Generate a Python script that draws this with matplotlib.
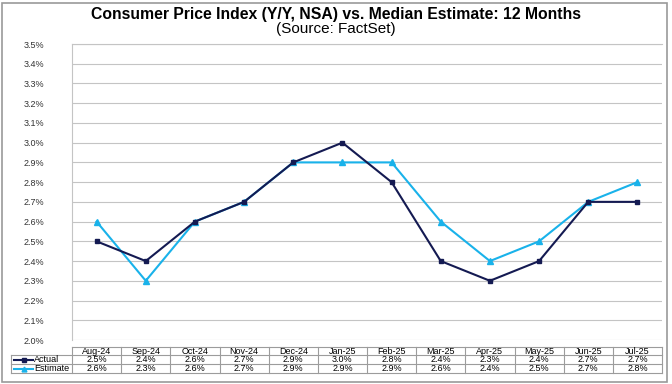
import matplotlib
matplotlib.use("Agg")
import matplotlib.pyplot as plt
from matplotlib.lines import Line2D
from matplotlib.patches import Rectangle
from matplotlib.ticker import MultipleLocator, FuncFormatter

plt.rcParams["font.family"] = ["Liberation Sans", "DejaVu Sans"]

months = ["Aug-24", "Sep-24", "Oct-24", "Nov-24", "Dec-24", "Jan-25",
          "Feb-25", "Mar-25", "Apr-25", "May-25", "Jun-25", "Jul-25"]
actual = [2.5, 2.4, 2.6, 2.7, 2.9, 3.0, 2.8, 2.4, 2.3, 2.4, 2.7, 2.7]
estimate = [2.6, 2.3, 2.6, 2.7, 2.9, 2.9, 2.9, 2.6, 2.4, 2.5, 2.7, 2.8]

c_act = "#141a52"
c_est = "#19b2ea"
grid_c = "#c4c4c4"

W, H = 672, 384
fig = plt.figure(figsize=(W / 100, H / 100), dpi=100)

# outer frame
fig.patches.append(Rectangle((2 / W, 2 / H), 665 / W, 379 / H, transform=fig.transFigure,
                             fill=False, edgecolor="#9a9a9a", lw=1.2))

fig.text(0.5, 1 - 15 / H, "Consumer Price Index (Y/Y, NSA) vs. Median Estimate: 12 Months",
         ha="center", va="center", fontsize=11.3, fontweight="bold")
fig.text(0.5, 1 - 29 / H, "(Source: FactSet)", ha="center", va="center", fontsize=11)

left, right, top, bottom = 72, 662, 44, 340
ax = fig.add_axes([left / W, 1 - bottom / H, (right - left) / W, (bottom - top) / H])
x = list(range(len(months)))
ax.plot(x, estimate, color=c_est, lw=1.5, marker="^", ms=4, zorder=3)
ax.plot(x, actual, color=c_act, lw=1.5, marker="s", ms=3.5, zorder=4)
ax.set_xlim(-0.5, len(months) - 0.5)
ax.set_ylim(2.0, 3.5)
ax.yaxis.set_major_locator(MultipleLocator(0.1))
ax.yaxis.set_major_formatter(FuncFormatter(lambda v, p: f"{v:.1f}%"))
ax.grid(axis="y", color=grid_c, lw=0.8)
ax.set_axisbelow(True)
ax.set_xticks([])
ax.tick_params(axis="y", labelsize=6.5, length=0, pad=20, colors="#333333")
for lab in ax.get_yticklabels():
    lab.set_ha("right")
for s in ["right", "bottom"]:
    ax.spines[s].set_visible(False)
for s in ["left", "top"]:
    ax.spines[s].set_color(grid_c)

# data table under the plot
rows_y = [347, 355, 364, 373]  # row edges in pixels from top
col_w = (right - left) / len(months)
leg_left = 11
tc = "#9c9c9c"


def fx(px):
    return px / W


def fy(py):
    return 1 - py / H


def hline(x0, x1, y):
    fig.lines.append(Line2D([fx(x0), fx(x1)], [fy(y), fy(y)], transform=fig.transFigure,
                            color=tc, lw=0.8))


def vline(xp, y0, y1):
    fig.lines.append(Line2D([fx(xp), fx(xp)], [fy(y0), fy(y1)], transform=fig.transFigure,
                            color=tc, lw=0.8))


hline(left, right, rows_y[0])
for y in rows_y[1:]:
    hline(leg_left, right, y)
vline(leg_left, rows_y[1], rows_y[3])
for i in range(len(months) + 1):
    vline(left + i * col_w, rows_y[0], rows_y[3])

for i, m in enumerate(months):
    cx = fx(left + (i + 0.5) * col_w)
    fig.text(cx, fy((rows_y[0] + rows_y[1]) / 2), m, ha="center", va="center", fontsize=6.5)
    fig.text(cx, fy((rows_y[1] + rows_y[2]) / 2), f"{actual[i]:.1f}%", ha="center",
             va="center", fontsize=6.5)
    fig.text(cx, fy((rows_y[2] + rows_y[3]) / 2), f"{estimate[i]:.1f}%", ha="center",
             va="center", fontsize=6.5)

for (name, col, mk, ms), r in zip([("Actual", c_act, "s", 3), ("Estimate", c_est, "^", 3.5)], [1, 2]):
    yc = fy((rows_y[r] + rows_y[r + 1]) / 2)
    fig.lines.append(Line2D([fx(14), fx(33)], [yc, yc], transform=fig.transFigure,
                            color=col, lw=1.5))
    fig.lines.append(Line2D([fx(23.5)], [yc], transform=fig.transFigure, color=col,
                            marker=mk, ms=ms, lw=0))
    fig.text(fx(34), yc, name, ha="left", va="center", fontsize=6.5)

fig.savefig("out.png", dpi=100)
